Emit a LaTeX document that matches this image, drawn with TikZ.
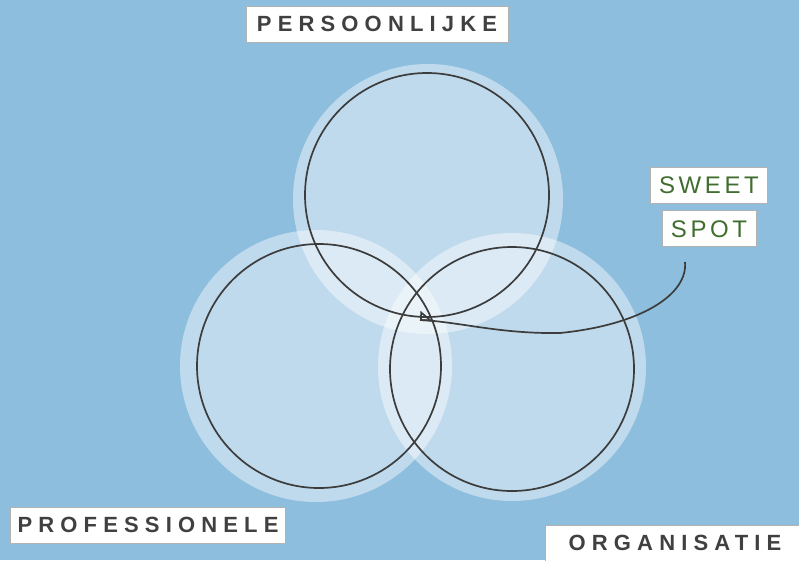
\documentclass[tikz,border=0pt]{standalone}
\usepackage{fontspec}
\setmainfont{Liberation Sans}
\newfontfamily\tagfont[LetterSpace=28]{Liberation Sans Bold}
\newfontfamily\sweetfont[LetterSpace=15]{Liberation Sans}
\usepackage{xcolor}
\usetikzlibrary{positioning, arrows.meta}

\definecolor{sky}{HTML}{8EBEDE}
\definecolor{ink}{HTML}{3C3C3C}
\definecolor{tagtext}{HTML}{404040}
\definecolor{leaf}{HTML}{3F6E2E}

\begin{document}
\begin{tikzpicture}[x=1pt, y=-1pt,
    disk/.style={fill=white, fill opacity=0.44},
    rim/.style={draw=ink, line width=1.7pt},
    tag/.style={draw=gray!60, fill=white, line width=0.8pt, inner xsep=11pt,
      minimum height=36pt, text=tagtext,
      font=\tagfont\fontsize{22}{22}\selectfont},
    sweetbox/.style={draw=gray!60, fill=white, line width=0.8pt, inner xsep=9pt,
      minimum height=36pt, text=leaf,
      font=\sweetfont\fontsize{24}{24}\selectfont}]
  \fill[sky] (0,0) rectangle (799,560);
  \useasboundingbox (0,0) rectangle (799,560);

  % soft discs behind the three circles
  \fill[disk] (428,199) circle[radius=135];
  \fill[disk] (316,366) circle[radius=136];
  \fill[disk] (512,367) circle[radius=134];

  \draw[rim] (427,195) circle[radius=122];
  \draw[rim] (319,366) circle[radius=122];
  \draw[rim] (512,369) circle[radius=122];

  % labels
  \node[tag] (persoonlijke) at (377,24) {PERSOONLIJKE};
  \node[tag, inner xsep=7pt] (professionele) at (148,525) {PROFESSIONELE};
  \node[tag, inner xsep=23pt] (organisatie) at (675,543) {ORGANISATIE};

  \node[sweetbox] (sweet) at (709,185) {SWEET};
  \node[sweetbox] (spot) [below=7pt of sweet] {SPOT};

  \coordinate (tail) at (685,262);
  \coordinate (middle) at (420,320);
  \draw[ink, line width=1.7pt, -{Triangle[open, reversed, harpoon, swap, length=12pt, width=18pt]}]
    (tail) .. controls (688,295) and (640,325) .. (560,333)
           .. controls (500,334) and (460,322) .. (middle);
\end{tikzpicture}
\end{document}
